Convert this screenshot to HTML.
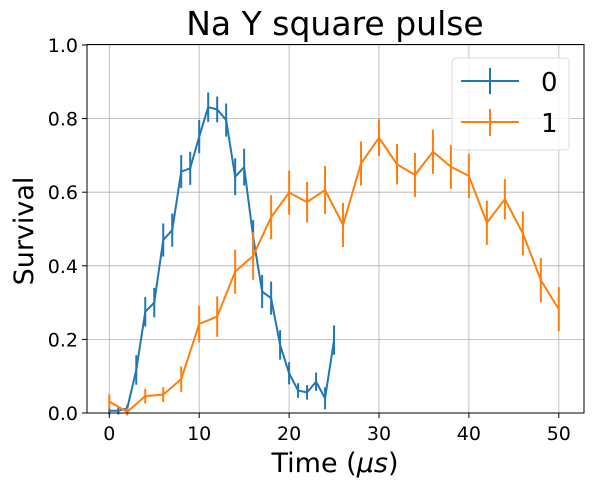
<!DOCTYPE html>
<html><head><meta charset="utf-8"><style>
body{margin:0;background:#fff;}
svg text{font-family:"DejaVu Sans","Liberation Sans",sans-serif;}
</style></head><body>
<svg width="596" height="491" xmlns="http://www.w3.org/2000/svg">
<g id="grid"></g>
<g id="series"></g>
<rect x="87" y="44.5" width="497" height="368.5" fill="none" stroke="#000" stroke-width="1"/>
<g id="ticks"></g>
<text x="335" y="35" font-size="33" text-anchor="middle">Na Y square pulse</text>
<text x="335" y="472" font-size="27" text-anchor="middle">Time (<tspan font-style="italic">μs</tspan>)</text>
<text transform="translate(33,231) rotate(-90)" font-size="27" text-anchor="middle">Survival</text>
<g>
<rect x="452" y="58" width="117" height="92" rx="4" fill="#fff" fill-opacity="0.8" stroke="#ddd"/>
<g><line x1="461" y1="81" x2="519" y2="81" stroke="#1f77b4" stroke-width="2"/><line x1="490" y1="68" x2="490" y2="94" stroke="#1f77b4" stroke-width="2"/><text x="541" y="91" font-size="26">0</text></g>
<g><line x1="461" y1="122" x2="519" y2="122" stroke="#ff7f0e" stroke-width="2"/><line x1="490" y1="109" x2="490" y2="136" stroke="#ff7f0e" stroke-width="2"/><text x="541" y="132" font-size="26">1</text></g>
</g>
</svg>
<script>
const xTicks=[0,10,20,30,40,50];
const yTicks=[0.0,0.2,0.4,0.6,0.8,1.0];
const yTickLabels=["0.0","0.2","0.4","0.6","0.8","1.0"];
const x0=[0,1,2,3,4,5,6,7,8,9,10,11,12,13,14,15,16,17,18,19,20,21,22,23,24,25];
const y0=[0.006,0.006,0.013,0.117,0.275,0.30,0.47,0.497,0.656,0.665,0.751,0.831,0.825,0.796,0.642,0.668,0.479,0.33,0.312,0.185,0.108,0.061,0.056,0.085,0.04,0.198];
const e0=[0.01,0.01,0.01,0.04,0.04,0.04,0.045,0.045,0.045,0.045,0.045,0.04,0.035,0.045,0.05,0.05,0.045,0.045,0.045,0.04,0.03,0.02,0.02,0.025,0.03,0.04];
const x1=[0,2,4,6,8,10,12,14,16,18,20,22,24,26,28,30,32,34,36,38,40,42,44,46,48,50];
const y1=[0.031,0.003,0.046,0.05,0.092,0.242,0.262,0.384,0.427,0.532,0.599,0.573,0.606,0.511,0.678,0.748,0.676,0.647,0.71,0.669,0.644,0.517,0.581,0.488,0.361,0.282];
const e1=[0.02,0.01,0.02,0.02,0.035,0.05,0.055,0.06,0.065,0.06,0.06,0.055,0.065,0.06,0.06,0.05,0.055,0.06,0.06,0.06,0.06,0.06,0.055,0.06,0.06,0.06];
const NS="http://www.w3.org/2000/svg";
const X=v=>109.3+v*8.99, Y=v=>413-v*368;
function mk(t,a,p){const e=document.createElementNS(NS,t);for(const k in a)e.setAttribute(k,a[k]);p.appendChild(e);return e;}
const grid=document.getElementById('grid'),ticks=document.getElementById('ticks'),ser=document.getElementById('series');
xTicks.forEach(v=>{
 const g=mk('line',{x1:X(v),x2:X(v),y1:44.5,y2:413,stroke:'#b0b0b0','stroke-width':0.8},grid);
 
 
 mk('line',{x1:X(v),x2:X(v),y1:413,y2:418,stroke:'#000'},ticks);
 const t=mk('text',{x:X(v),y:440,'font-size':19,'text-anchor':'middle'},ticks);t.textContent=v;
 
 
});
yTicks.forEach((v,i)=>{
 const g=mk('line',{x1:87,x2:584,y1:Y(v),y2:Y(v),stroke:'#b0b0b0','stroke-width':0.8},grid);
 
 
 mk('line',{x1:82,x2:87,y1:Y(v),y2:Y(v),stroke:'#000'},ticks);
 const t=mk('text',{x:78,y:Y(v)+7,'font-size':19,'text-anchor':'end'},ticks);t.textContent=yTickLabels[i];
 
 
});
function draw(xs,ys,es,col,name){
 const g=mk('g',{},ser);
 
 
 mk('polyline',{points:xs.map((x,i)=>X(x)+','+Y(ys[i])).join(' '),fill:'none',stroke:col,'stroke-width':2},g);
 xs.forEach((x,i)=>{
  const b=mk('line',{x1:X(x),x2:X(x),y1:Y(ys[i]-es[i]),y2:Y(ys[i]+es[i]),stroke:col,'stroke-width':2},g);
  
  
 });
}
draw(x0,y0,e0,'#1f77b4','series-0');
draw(x1,y1,e1,'#ff7f0e','series-1');
</script>
</body></html>
